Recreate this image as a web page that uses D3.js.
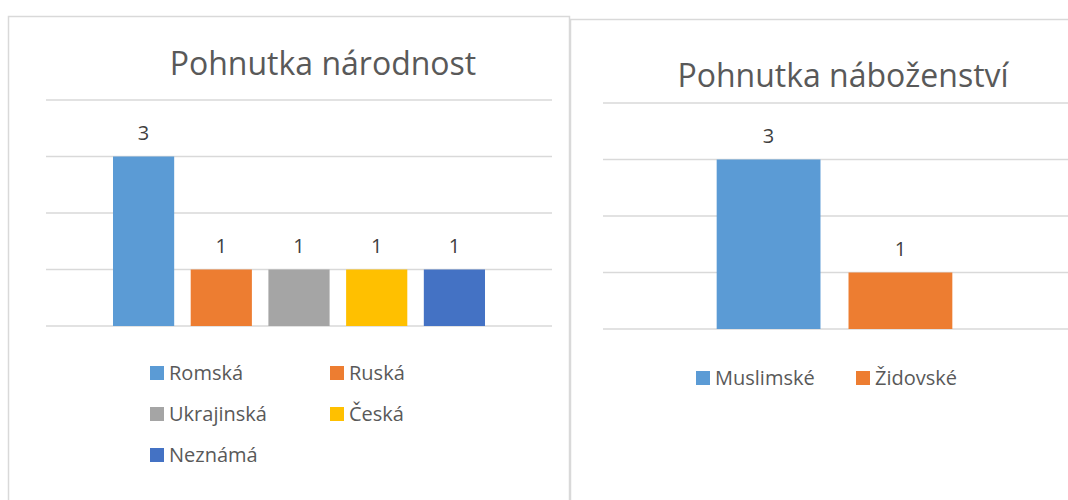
<!DOCTYPE html>
<meta charset="utf-8">
<script src="https://cdn.jsdelivr.net/npm/d3@7"></script>
<style>
  body { margin: 0; background: #fff; }
  text { font-family: "Open Sans", sans-serif; }
</style>
<div id="chart"></div>
<script>

// data
var natTitle = "Pohnutka národnost";
var natNames = ["Romská", "Ruská", "Ukrajinská", "Česká", "Neznámá"];
var natValues = [3, 1, 1, 1, 1];
var natColors = ["#5b9bd5", "#ed7d31", "#a5a5a5", "#ffc000", "#4472c4"];

var relTitle = "Pohnutka náboženství";
var relNames = ["Muslimské", "Židovské"];
var relValues = [3, 1];
var relColors = ["#5b9bd5", "#ed7d31"];

var yTicks = [0, 1, 2, 3, 4];

var svg = d3.select("#chart")
  .append("svg")
    .attr("width", 1068)
    .attr("height", 500);

// panel borders
svg.append("rect")
    .attr("x", 8.5).attr("y", 16.5).attr("width", 561).attr("height", 500)
    .attr("fill", "none").attr("stroke", "#d9d9d9").attr("stroke-width", 1.5);
svg.append("rect")
    .attr("x", 570.5).attr("y", 19.5).attr("width", 520).attr("height", 500)
    .attr("fill", "none").attr("stroke", "#d9d9d9").attr("stroke-width", 1.5);

function drawChart(opt) {
  var g = svg.append("g");

  // excel style clustered bars: overlap -27%, gap width 219%
  var x = d3.scaleBand()
      .domain(opt.names)
      .range([opt.left, opt.right])
      .paddingInner(0.27 / 1.27)
      .paddingOuter(1.095 / 1.27);

  var y = d3.scaleLinear()
      .domain([0, 4])
      .range([opt.bottom, opt.top]);

  // gridlines
  g.selectAll(".grid")
    .data(yTicks)
    .enter()
    .append("line")
      .attr("x1", opt.left)
      .attr("x2", opt.gridRight)
      .attr("y1", function(d) { return y(d); })
      .attr("y2", function(d) { return y(d); })
      .attr("stroke", "#d9d9d9")
      .attr("stroke-width", 1.5);

  // bars
  g.selectAll(".bar")
    .data(opt.values)
    .enter()
    .append("rect")
      .attr("x", function(d, i) { return x(opt.names[i]); })
      .attr("y", function(d) { return y(d); })
      .attr("width", x.bandwidth())
      .attr("height", function(d) { return y(0) - y(d); })
      .style("fill", function(d, i) { return opt.colors[i]; });

  // data labels
  g.selectAll(".lbl")
    .data(opt.values)
    .enter()
    .append("text")
      .attr("x", function(d, i) { return x(opt.names[i]) + x.bandwidth() / 2; })
      .attr("y", function(d) { return y(d) - 17; })
      .attr("text-anchor", "middle")
      .style("font-size", "20px")
      .style("fill", "#404040")
      .text(function(d) { return d; });

  // title
  g.append("text")
      .attr("x", opt.titleX)
      .attr("y", opt.titleY)
      .attr("text-anchor", "middle")
      .style("font-size", "32px")
      .style("fill", "#595959")
      .text(opt.title);

  // legend
  opt.names.forEach(function(name, i) {
    var pos = opt.legendPos[i];
    g.append("rect")
        .attr("x", pos[0]).attr("y", pos[1] - 7)
        .attr("width", 14).attr("height", 14)
        .style("fill", opt.colors[i]);
    g.append("text")
        .attr("x", pos[0] + 19).attr("y", pos[1])
        .attr("dy", "0.35em")
        .style("font-size", "20px")
        .style("fill", "#595959")
        .text(name);
  });
}

drawChart({
  title: natTitle, names: natNames, values: natValues, colors: natColors,
  left: 46, right: 552, gridRight: 552, top: 100, bottom: 326,
  titleX: 323, titleY: 75,
  legendPos: [[150, 373], [330, 373], [150, 414], [330, 414], [150, 455]]
});

drawChart({
  title: relTitle, names: relNames, values: relValues, colors: relColors,
  left: 603, right: 1066, gridRight: 1068, top: 103, bottom: 329,
  titleX: 843, titleY: 87,
  legendPos: [[696, 378], [856, 378]]
});

</script>
